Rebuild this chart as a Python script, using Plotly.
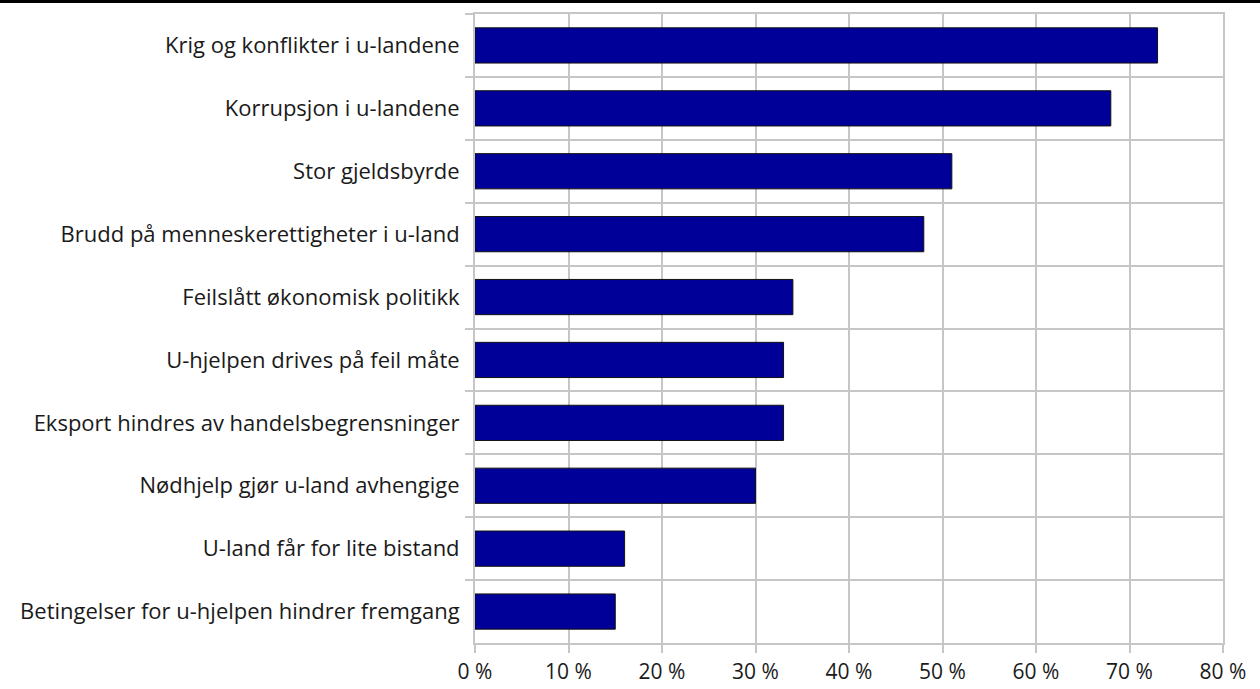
import plotly.graph_objects as go

categories = [
    "Krig og konflikter i u-landene",
    "Korrupsjon i u-landene",
    "Stor gjeldsbyrde",
    "Brudd på menneskerettigheter i u-land",
    "Feilslått økonomisk politikk",
    "U-hjelpen drives på feil måte",
    "Eksport hindres av handelsbegrensninger",
    "Nødhjelp gjør u-land avhengige",
    "U-land får for lite bistand",
    "Betingelser for u-hjelpen hindrer fremgang",
]
values = [73, 68, 51, 48, 34, 33, 33, 30, 16, 15]
x_ticks = [0, 10, 20, 30, 40, 50, 60, 70, 80]
x_labels = [f"{v} %" for v in x_ticks]

W, H = 1260, 689
ml, mr, mt, mb = 475, 37, 14, 46
pw = W - ml - mr
ph = H - mt - mb

fig = go.Figure(go.Bar(
    x=values, y=categories, orientation="h",
    marker=dict(color="#000099", line=dict(color="#111111", width=1)),
    hoverinfo="x+y",
))

grid = "#c6c6c6"
tfont = dict(family="Open Sans, Noto Sans, sans-serif", size=22, color="#1a1a1a")
xfont = dict(family="Open Sans, Noto Sans, sans-serif", size=21, color="#1a1a1a")
fig.update_layout(
    width=W, height=H,
    margin=dict(l=ml, r=mr, t=mt, b=mb, autoexpand=False),
    plot_bgcolor="white", paper_bgcolor="white",
    bargap=0.44,
    showlegend=False,
    font=tfont,
    xaxis=dict(
        range=[0, 80], tickmode="array", tickvals=x_ticks, ticktext=x_labels,
        tickfont=xfont,
        showgrid=True, gridcolor=grid, gridwidth=2,
        showline=True, linecolor=grid, linewidth=2, mirror=True,
        ticks="outside", ticklen=8, tickcolor=grid, tickwidth=2,
        zeroline=False, ticklabelstandoff=1,
    ),
    yaxis=dict(
        autorange="reversed", tickson="boundaries",
        tickfont=tfont,
        showgrid=True, gridcolor=grid, gridwidth=2,
        showline=True, linecolor=grid, linewidth=2, mirror=True,
        ticks="outside", ticklen=8, tickcolor=grid, tickwidth=2,
        ticklabelstandoff=9,
    ),
    shapes=[dict(
        type="line", xref="paper", yref="paper",
        x0=-ml / pw, x1=1 + mr / pw,
        y0=1 + (mt - 1.5) / ph, y1=1 + (mt - 1.5) / ph,
        line=dict(color="black", width=3),
    )],
)

fig.write_html("out.html", config={"displayModeBar": False},
               post_script="document.body.style.margin='0';")
